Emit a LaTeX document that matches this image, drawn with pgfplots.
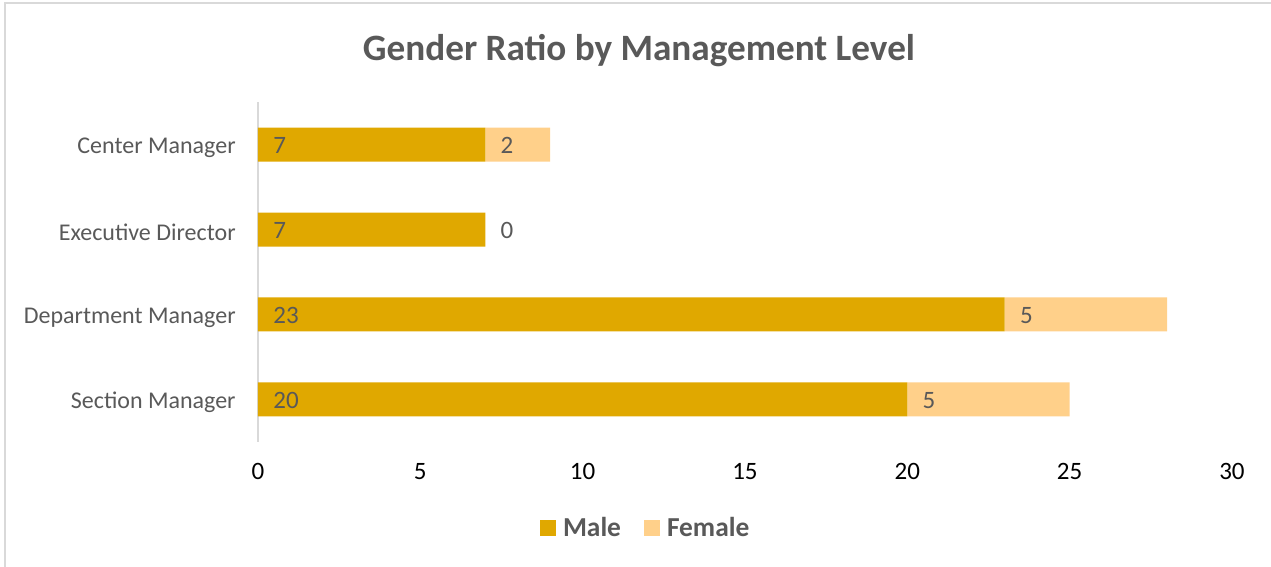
\documentclass[border=0pt]{standalone}
\usepackage{fontspec}
\setmainfont{Carlito}
\usepackage{pgfplots}
\pgfplotsset{compat=1.18}
\definecolor{malecol}{HTML}{E0A800}
\definecolor{femalecol}{HTML}{FFD08A}
\definecolor{txtgray}{HTML}{595959}
\definecolor{linegray}{HTML}{D9D9D9}

\begin{document}
\begin{tikzpicture}
% frame of the chart area (only top and left edges visible)
\path[use as bounding box] (-129pt,-62.5pt) rectangle (506.5pt,221pt);
\draw[linegray, line width=1pt] (-126.5pt,-62.5pt) -- (-126.5pt,219.5pt) -- (506.5pt,219.5pt);

\begin{axis}[name=ax, at={(0,0)}, anchor=south west,
  scale only axis, width=487pt, height=170pt,
  xbar stacked, bar width=17pt,
  xmin=0, xmax=30, ymin=-0.5, ymax=3.5,
  xtick={0,5,...,30}, ytick={0,1,2,3},
  yticklabels={Section Manager,Department Manager,Executive Director,Center Manager},
  axis lines*=left,
  x axis line style={draw=none},
  y axis line style={draw=linegray, line width=1pt},
  major tick length=0pt,
  /pgf/number format/assume math mode=true,
  xticklabel style={font=\fontsize{12.5}{15}\selectfont, text=black, inner sep=0pt, yshift=-10.5pt},
  yticklabel style={font=\fontsize{12}{14}\selectfont, text=txtgray, inner sep=0pt, xshift=-11pt, yshift=-1.5pt},
  title={Gender Ratio by Management Level},
  title style={font=\fontsize{18.6}{22}\selectfont\bfseries, text=txtgray, at={(axis description cs:0.3912,1.1147)}, anchor=center},
  legend columns=2,
  legend style={at={(axis description cs:0.397,-0.253)}, anchor=center, draw=none,
    font=\fontsize{13.7}{16}\selectfont\bfseries, text=txtgray,
    nodes={inner sep=0pt},
    /tikz/every odd column/.append style={column sep=3.5pt},
    /tikz/every even column/.append style={column sep=11.5pt}},
  legend image code/.code={\fill[#1] (0pt,-4pt) rectangle (8pt,4pt);},
]
\addplot[fill=malecol, draw=none] coordinates {(20,0) (23,1) (7,2) (7,3)};
\addlegendentry{Male}
\addplot[fill=femalecol, draw=none] coordinates {(5,0) (5,1) (0,2) (2,3)};
\addlegendentry{Female}
\end{axis}

% data labels at the start of each segment
\begin{axis}[at={(0,0)}, anchor=south west,
  scale only axis, width=487pt, height=170pt,
  xmin=0, xmax=30, ymin=-0.5, ymax=3.5, hide axis,
  clip=false]
\addplot[draw=none, mark=none, nodes near coords, point meta=explicit symbolic,
  every node near coord/.append style={anchor=west, inner sep=0pt, xshift=7.5pt, yshift=-0.5pt,
    font=\fontsize{12.5}{15}\selectfont, text=txtgray}]
  coordinates {(0,0)[20] (20,0)[5] (0,1)[23] (23,1)[5] (0,2)[7] (7,2)[0] (0,3)[7] (7,3)[2]};
\end{axis}
\end{tikzpicture}
\end{document}
